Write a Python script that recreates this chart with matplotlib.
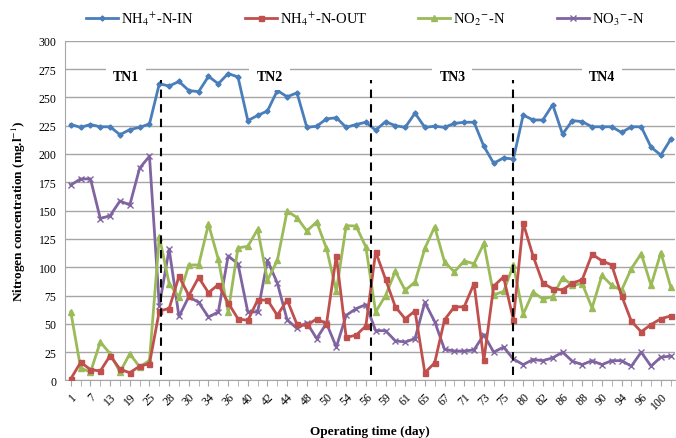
import matplotlib
matplotlib.use("Agg")
import matplotlib.pyplot as plt
import numpy as np

days = [1,4,7,10,13,16,19,22,25,27,28,29,30,32,34,35,36,38,40,41,42,43,44,46,48,49,50,52,54,55,56,58,
        59,60,61,63,65,66,67,69,71,72,73,74,75,78,80,81,82,84,86,87,88,89,90,92,94,95,96,98,100,101]

nh4_in = [226,223.5,226,224,224,217,221.5,223.5,226.5,262,260,264,256,255,268.5,262,271,268,229.5,234,
          238,256,250.5,254,223.5,224.5,231,232,223.5,226,228,221,228.5,225,223.5,236,223.5,224.5,223.5,227,
          228,228,206.8,191.8,196.5,195.5,234.4,230,230,243.5,217.5,229.5,228.5,224,224,224,219,224,224,206,
          199,213]
nh4_out = [1.5,16,9.7,8.3,22,10,6.8,12.7,14.8,61.4,63.5,92,75,91,77.5,84.7,68.5,54.5,53,71,
           71,57.5,71,49.5,48.6,54.5,50,110,38,40,48,113.6,89.5,65,54.5,61.4,6.8,15.6,53.6,65,
           65,85.6,17.7,83.3,91.5,53.7,139,110,86,81,80,86,89,111.5,105.7,102,75,52.3,43,49.4,
           54.5,57]
no2 = [60.5,11,7.4,34,23.6,7.4,23.6,12,17.7,127,85.6,73.8,102,102,138,107,60.5,117,118.5,133.4,
       88.5,106,149.7,143.8,132,140,116.6,78.8,136.7,136.4,118,60.5,75,96.4,79.6,87,116.6,135.7,104.7,95.9,
       105.6,103,121,75.6,78.6,101.8,58.4,78,72,74,90.8,84,85.6,64,92.8,84,79.6,98.8,112,84,
       113,82.5]
no3 = [172.6,178,178,143,145.5,158.5,155,187.5,198,66,116,56.5,74,69,56,60.5,110,103,60.5,60.5,
       106,86,53.5,46,51,37,50.5,29.5,57.5,63.4,67,44,44,35,34,37,69,52,27.5,26,
       26,27,40.5,25,29.5,19,14,18.5,17.5,20,25,17,14,17.5,14,17.5,17.5,12.7,25,12.7,
       20.6,21.5]

series_names = ["NH$_4$$^{+}$-N-IN", "NH$_4$$^{+}$-N-OUT", "NO$_2$$^{-}$-N", "NO$_3$$^{-}$-N"]
phase_names = ["TN1", "TN2", "TN3", "TN4"]

plt.rcParams['font.family'] = ['Liberation Serif', 'DejaVu Serif']
plt.rcParams['mathtext.fontset'] = 'stix'

fig = plt.figure(figsize=(6.76, 4.39), dpi=100)
ax = fig.add_axes([0.096, 0.131, 0.902, 0.774])

x = np.arange(len(days))
ax.plot(x, nh4_in, color='#4A7EBB', lw=2, marker='D', ms=2.6, label=series_names[0], zorder=5)
ax.plot(x, nh4_out, color='#C0504D', lw=2, marker='s', ms=3.6, label=series_names[1], zorder=4)
ax.plot(x, no2, color='#9BBB59', lw=2, marker='^', ms=4.2, label=series_names[2], zorder=3)
ax.plot(x, no3, color='#8064A2', lw=2, marker='x', ms=5, mew=1, label=series_names[3], zorder=2)

ax.set_ylim(0, 300)
ax.set_xlim(-0.6, 61.4)
ax.set_yticks(np.arange(0, 301, 25))
ax.yaxis.grid(True, color='#A6A6A6', lw=1)
ax.set_axisbelow(True)
for s in ['top', 'right']:
    ax.spines[s].set_visible(False)
for s in ['left', 'bottom']:
    ax.spines[s].set_color('#A6A6A6')
ax.tick_params(axis='y', length=0, labelsize=8.5, pad=6)

ax.set_xticks(x[::2])
ax.set_xticklabels([str(d) for d in days[::2]], rotation=45, ha='right', rotation_mode='anchor', fontsize=8.5)
ax.set_xticks(x, minor=True)
ax.tick_params(axis='x', which='both', length=4, color='#A6A6A6', direction='out')
ax.tick_params(axis='x', which='major', pad=3)

for xv in [9.2, 30.5, 45.0]:
    ax.plot([xv, xv], [5, 265], color='black', lw=1.5, ls=(0, (4, 3)), zorder=6)

for xv, name in zip([5.6, 20.2, 38.8, 54.0], phase_names):
    ax.text(xv, 268, name, ha='center', va='center', fontsize=10, fontweight='bold',
            bbox=dict(facecolor='white', edgecolor='none', pad=5), zorder=7)

ax.set_ylabel("Nitrogen concentration (mg.l$^{-1}$)", fontsize=9.5, fontweight='bold', labelpad=8)
ax.set_xlabel("Operating time (day)", fontsize=9.5, fontweight='bold', labelpad=10)

leg = fig.legend(loc='upper center', bbox_to_anchor=(0.54, 1.005), ncol=4, frameon=False,
                 fontsize=10.5, handlelength=2.2, columnspacing=3.5, handletextpad=0.2)

fig.savefig("out.png", dpi=100)
